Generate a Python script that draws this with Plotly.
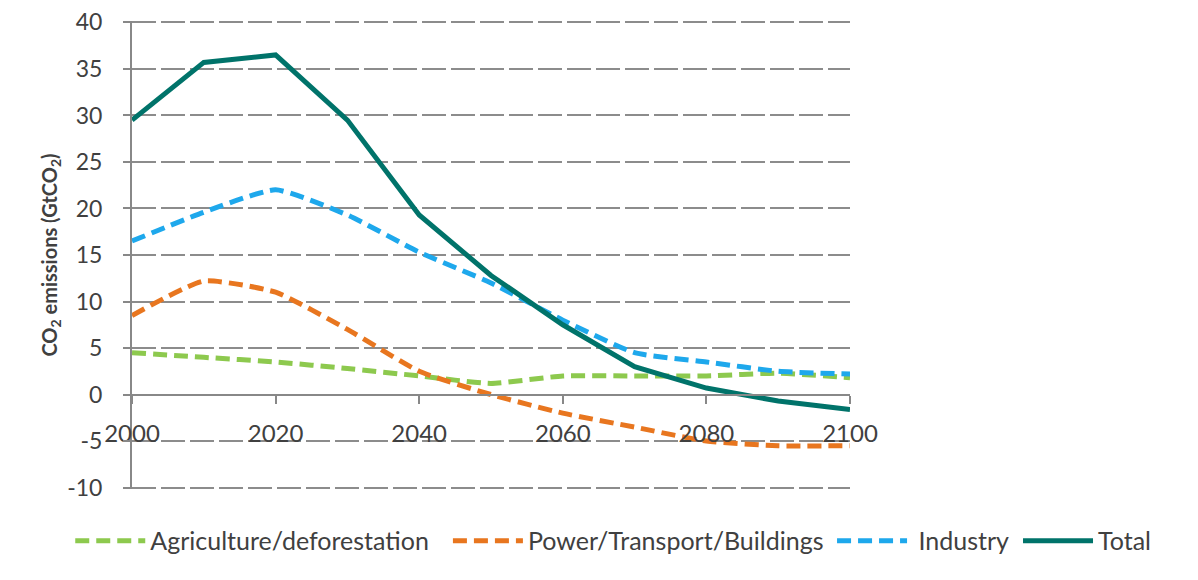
import plotly.graph_objects as go

years = [2000, 2010, 2020, 2030, 2040, 2050, 2060, 2070, 2080, 2090, 2100]

agriculture = [4.5, 4.0, 3.5, 2.8, 2.0, 1.2, 2.0, 2.0, 2.0, 2.3, 1.8]
power = [8.5, 12.2, 11.0, 7.0, 2.5, 0.0, -2.0, -3.5, -5.0, -5.5, -5.5]
industry = [16.5, 19.6, 22.0, 19.3, 15.3, 12.0, 8.0, 4.5, 3.5, 2.5, 2.2]
total = [29.5, 35.7, 36.5, 29.5, 19.3, 12.8, 7.5, 3.0, 0.7, -0.7, -1.6]

y_ticks = [-10, -5, 0, 5, 10, 15, 20, 25, 30, 35, 40]
y_labels = ["-10", "-5", "0", "5", "10", "15", "20", "25", "30", "35", "40"]
x_ticks = [2000, 2020, 2040, 2060, 2080, 2100]

# name, values, colour, dash, shape, legend id, legend x
series = [
    ("Agriculture/deforestation", agriculture, "#8DC94E", "14px,7px", "spline", "legend", -0.086),
    ("Power/Transport/Buildings", power, "#E8761F", "14px,7px", "spline", "legend2", 0.440),
    ("\u00a0Industry", industry, "#1EA8EC", "14px,7px", "spline", "legend3", 0.975),
    ("Total", total, "#00736A", "solid", "linear", "legend4", 1.234),
]

# small padding so plotly keeps the grid lines at 40 and -10
y_range = [-10.15, 40.15]
x_axis_pos = (0 - y_range[0]) / (y_range[1] - y_range[0])

fig = go.Figure()

legends = {}
for name, vals, color, dash, shape, leg, lx in series:
    fig.add_trace(go.Scatter(
        x=years,
        y=vals,
        mode="lines",
        name=name,
        legend=leg,
        line=dict(color=color, width=5, dash=dash,
                  shape=shape, smoothing=0.5),
    ))
    legends[leg] = dict(
        orientation="h",
        x=lx, xanchor="left",
        y=-0.111, yanchor="middle",
        font=dict(size=25, color="#404040"),
        itemwidth=70,
        bgcolor="rgba(0,0,0,0)",
    )

# page body adds an 8px offset, so margins are shifted up/left by 8px
fig.update_layout(
    width=1198,
    height=580,
    margin=dict(l=124, r=356, t=13, b=99, autoexpand=False),
    paper_bgcolor="white",
    plot_bgcolor="white",
    font=dict(family="Lato", color="#404040", size=22),
    showlegend=True,
    xaxis=dict(
        range=[2000, 2100],
        tickvals=x_ticks,
        ticks="outside",
        ticklen=8,
        tickwidth=1.5,
        tickcolor="#888888",
        showline=True,
        linecolor="#888888",
        linewidth=2,
        showgrid=False,
        zeroline=False,
        anchor="free",
        position=x_axis_pos,
        ticklabelstandoff=10,
        ticklabeloverflow="allow",
        tickfont=dict(size=24, color="#404040"),
    ),
    yaxis=dict(
        range=y_range,
        tickvals=y_ticks,
        ticktext=y_labels,
        showline=True,
        linecolor="#888888",
        linewidth=2,
        showgrid=True,
        gridcolor="#8c8c8c",
        gridwidth=1.5,
        griddash="24px,5px",
        zeroline=False,
        ticks="outside",
        ticklen=7,
        tickwidth=1.5,
        tickcolor="#888888",
        ticklabelstandoff=16,
        ticklabeloverflow="allow",
        tickfont=dict(size=23, color="#404040"),
        title=dict(
            text="<b>CO<sub>2</sub> emissions (GtCO<sub>2</sub>)</b>",
            font=dict(size=20, color="#404040"),
            standoff=4,
        ),
    ),
    **legends,
)

fig.write_html("out.html")
